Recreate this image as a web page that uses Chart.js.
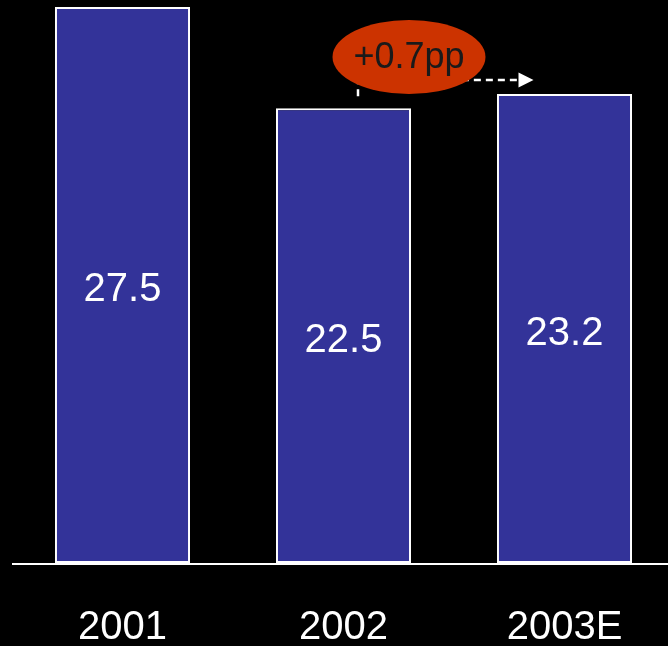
<!DOCTYPE html>
<html>
<head>
<meta charset="utf-8">
<script src="https://cdn.jsdelivr.net/npm/chart.js@4/dist/chart.umd.min.js"></script>
<style>
html,body{margin:0;padding:0;background:#000;overflow:hidden;}
#wrap{width:680px;height:646px;position:relative;}
</style>
</head>
<body>
<div id="wrap"><canvas id="c"></canvas></div>
<script>
const categories = ['2001', '2002', '2003E'];
const values = [27.5, 22.5, 23.2];
const valueLabels = ['27.5', '22.5', '23.2'];
const annotationText = '+0.7pp';

const FONT = '"Liberation Sans", Arial, sans-serif';

const valueLabelPlugin = {
  id: 'valueLabels',
  afterDatasetsDraw(chart) {
    const ctx = chart.ctx;
    const meta = chart.getDatasetMeta(0);
    ctx.save();
    ctx.fillStyle = '#ffffff';
    ctx.font = '40px ' + FONT;
    ctx.textAlign = 'center';
    ctx.textBaseline = 'middle';
    meta.data.forEach((bar, i) => {
      const p = bar.getProps(['x', 'y', 'base'], true);
      ctx.fillText(valueLabels[i], p.x, (p.y + p.base) / 2 + 5);
    });
    ctx.restore();
  }
};

const axisLinePlugin = {
  id: 'axisLine',
  afterDatasetsDraw(chart) {
    const ctx = chart.ctx;
    const y = chart.scales.y.getPixelForValue(0);
    ctx.save();
    ctx.strokeStyle = '#ffffff';
    ctx.lineWidth = 2;
    ctx.beginPath();
    ctx.moveTo(chart.chartArea.left, y + 1);
    ctx.lineTo(chart.width, y + 1);
    ctx.stroke();
    ctx.restore();
  }
};

const annotationPlugin = {
  id: 'annot',
  afterDatasetsDraw(chart) {
    const ctx = chart.ctx;
    const xs = chart.scales.x, ys = chart.scales.y;
    const x1 = xs.getPixelForValue(1);
    const x2 = xs.getPixelForValue(2);
    const yTop1 = ys.getPixelForValue(values[1]);
    const yTop2 = ys.getPixelForValue(values[2]);
    const lineY = yTop2 - 14;
    const startX = x1 + 14.5;
    const tipX = x2 - 31;
    ctx.save();
    ctx.strokeStyle = '#ffffff';
    ctx.lineWidth = 2.5;
    ctx.setLineDash([7, 5]);
    ctx.beginPath();
    ctx.moveTo(startX, yTop1 - 12);
    ctx.lineTo(startX, lineY);
    ctx.lineTo(tipX - 14, lineY);
    ctx.stroke();
    ctx.setLineDash([]);
    ctx.fillStyle = '#ffffff';
    ctx.beginPath();
    ctx.moveTo(tipX, lineY);
    ctx.lineTo(tipX - 15, lineY - 7.5);
    ctx.lineTo(tipX - 15, lineY + 7.5);
    ctx.closePath();
    ctx.fill();
    const cx = x1 + 65.5, cy = lineY - 23;
    ctx.fillStyle = '#cc3300';
    ctx.beginPath();
    ctx.ellipse(cx, cy, 76.5, 37, 0, 0, Math.PI * 2);
    ctx.fill();
    ctx.fillStyle = '#1a1a1a';
    ctx.font = '36px ' + FONT;
    ctx.textAlign = 'center';
    ctx.textBaseline = 'middle';
    ctx.fillText(annotationText, cx, cy + 1);
    ctx.restore();
  }
};

new Chart(document.getElementById('c'), {
  type: 'bar',
  data: {
    labels: categories,
    datasets: [{
      data: values,
      backgroundColor: '#333399',
      borderColor: '#ffffff',
      borderWidth: 2,
      borderSkipped: false,
      barPercentage: 0.611,
      categoryPercentage: 1.0
    }]
  },
  options: {
    responsive: true,
    maintainAspectRatio: false,
    animation: false,
    layout: { padding: { left: 12, right: 5, top: 0, bottom: 0 } },
    plugins: { legend: { display: false }, tooltip: { enabled: false } },
    scales: {
      x: {
        grid: { display: false, drawTicks: false, tickLength: 0 },
        border: { display: false },
        ticks: {
          color: '#ffffff',
          font: { family: FONT, size: 40, lineHeight: 1 },
          padding: 45,
          maxRotation: 0
        },
        afterFit(scale) { scale.height = 83; }
      },
      y: {
        display: false,
        min: 0,
        max: 27.85
      }
    }
  },
  plugins: [axisLinePlugin, valueLabelPlugin, annotationPlugin]
});
</script>
</body>
</html>
